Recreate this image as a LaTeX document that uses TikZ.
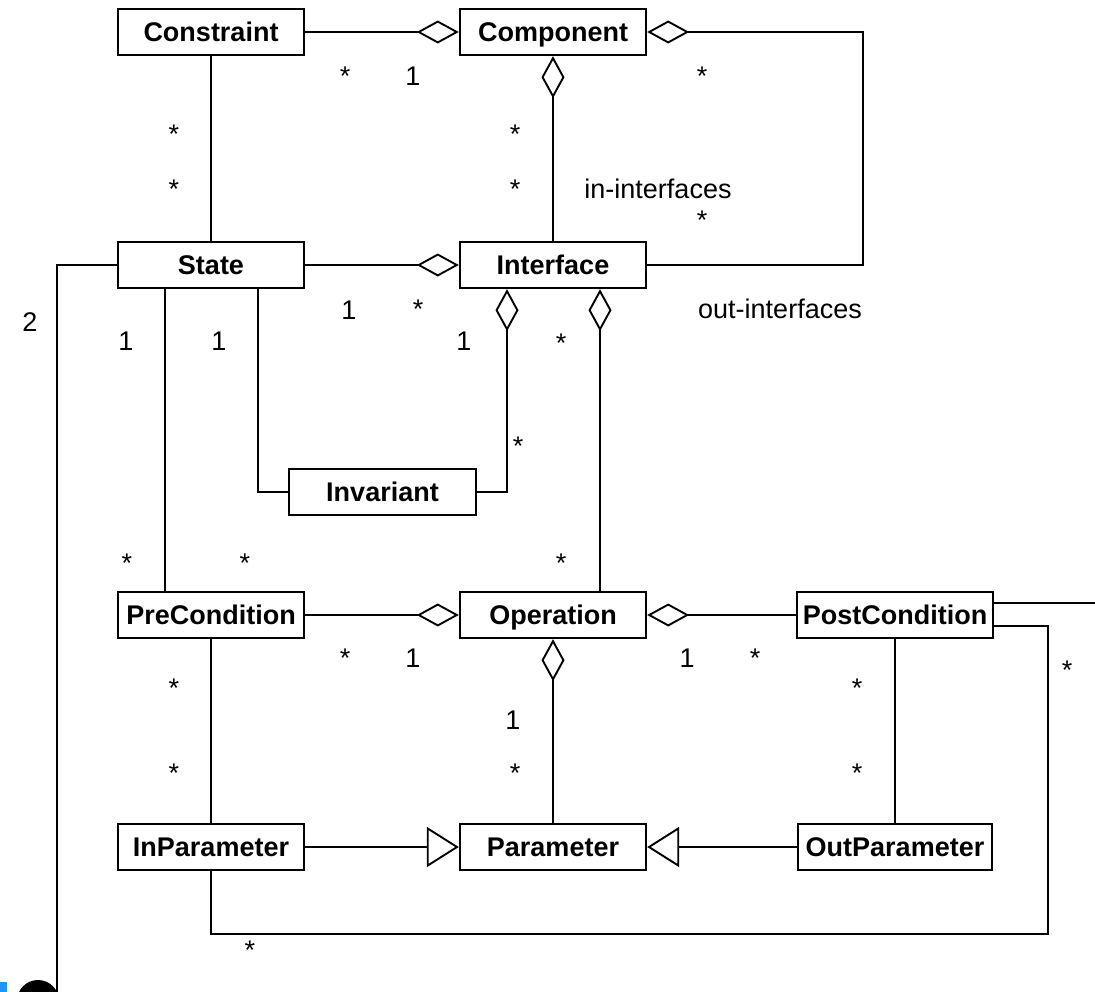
\documentclass[tikz,border=0pt]{standalone}
\usepackage{fontspec}
\setmainfont{Liberation Sans}
\usetikzlibrary{arrows.meta,calc}
\begin{document}
\begin{tikzpicture}[x=1pt,y=-1pt,
  cls/.style={draw,line width=2.4pt,minimum height=46pt,inner sep=0pt,
    text height=19.3pt,text depth=0pt,
    font=\fontsize{27}{31}\selectfont\bfseries},
  conn/.style={line width=1.5pt},
  agg/.style={conn,{Diamond[open,length=42pt,width=23pt,line width=1.9pt]}-},
  gen/.style={conn,-{Triangle[open,length=32pt,width=40pt,line width=1.9pt]}},
  mult/.style={anchor=base,inner sep=0pt,font=\fontsize{27}{31}\selectfont}]
\useasboundingbox (0,0) rectangle (1095,991);
\clip (0,0) rectangle (1095,991);

% classes
\node[cls,minimum width=186pt] (constraint) at (211,32) {Constraint};
\node[cls,minimum width=186pt] (component) at (553,32) {Component};
\node[cls,minimum width=186pt] (state) at (211,265) {State};
\node[cls,minimum width=186pt] (interface) at (553,265) {Interface};
\node[cls,minimum width=187pt] (invariant) at (382.5,492) {Invariant};
\node[cls,minimum width=186pt] (pre) at (211,615) {PreCondition};
\node[cls,minimum width=186pt] (operation) at (553,615) {Operation};
\node[cls,minimum width=196pt] (post) at (895,615) {PostCondition};
\node[cls,minimum width=186pt] (inparam) at (211,847) {InParameter};
\node[cls,minimum width=186pt] (param) at (553,847) {Parameter};
\node[cls,minimum width=194pt] (outparam) at (895,847) {OutParameter};

% bend points and free ends
\coordinate (ifturn) at (863,32);
\coordinate (loopturn) at (1048,934);
\coordinate (stateend) at (57,1010);
\coordinate (postend) at (1110,603);

% aggregations
\draw[agg] (component.west) -- (constraint.east);
\draw[agg] (component.south) -- (interface.north);
\draw[agg] (component.east) -- (ifturn) |- (interface.east);
\draw[agg] (interface.west) -- (state.east);
\draw[agg] ([xshift=-46pt]interface.south) |- (invariant.east);
\draw[agg] ([xshift=47pt]interface.south) -- ([xshift=47pt]operation.north);
\draw[agg] (operation.west) -- (pre.east);
\draw[agg] (operation.east) -- (post.west);
\draw[agg] (operation.south) -- (param.north);

% plain associations
\draw[conn] (constraint.south) -- (state.north);
\draw[conn] ([xshift=-46pt]state.south) -- ([xshift=-46pt]pre.north);
\draw[conn] ([xshift=47pt]state.south) |- (invariant.west);
\draw[conn] (state.west) -| (stateend);
\draw[conn] (pre.south) -- (inparam.north);
\draw[conn] (post.south) -- (outparam.north);
\draw[conn] ([yshift=12pt]post.east) -- (postend);
\draw[conn] ([yshift=-11pt]post.east) -| (loopturn) -| (inparam.south);

% generalisations
\draw[gen] (inparam.east) -- (param.west);
\draw[gen] (outparam.west) -- (param.east);

% multiplicities and role names
\node[mult] (m1) at (345,85) {*};
\node[mult] (m2) at (413,85) {1};
\node[mult] (m3) at (702,85) {*};
\node[mult] (m4) at (174,143) {*};
\node[mult] (m5) at (174,198) {*};
\node[mult] (m6) at (515,143) {*};
\node[mult] (m7) at (515,198) {*};
\node[mult] (r1) at (658,198) {in-interfaces};
\node[mult] (m8) at (702,229) {*};
\node[mult] (m9) at (349,319) {1};
\node[mult] (m10) at (418,318) {*};
\node[mult] (r2) at (780,318) {out-interfaces};
\node[mult] (m11) at (30,331) {2};
\node[mult] (m12) at (126,350) {1};
\node[mult] (m13) at (219,350) {1};
\node[mult] (m14) at (464,350) {1};
\node[mult] (m15) at (561,352) {*};
\node[mult] (m16) at (518,455) {*};
\node[mult] (m17) at (127,572) {*};
\node[mult] (m18) at (245,572) {*};
\node[mult] (m19) at (561,572) {*};
\node[mult] (m20) at (345,667) {*};
\node[mult] (m21) at (413,667) {1};
\node[mult] (m22) at (513,729) {1};
\node[mult] (m23) at (687,667) {1};
\node[mult] (m24) at (755,667) {*};
\node[mult] (m25) at (1067,679) {*};
\node[mult] (m26) at (174,697) {*};
\node[mult] (m27) at (174,782) {*};
\node[mult] (m28) at (515,782) {*};
\node[mult] (m29) at (857,697) {*};
\node[mult] (m30) at (857,782) {*};
\node[mult] (m31) at (250,959) {*};

% marks in the lower left corner
\fill[fill={rgb,255:red,30;green,150;blue,255}] (0,982) rectangle (7,995);
\fill[black] (38,1001) circle (21);
\end{tikzpicture}
\end{document}
